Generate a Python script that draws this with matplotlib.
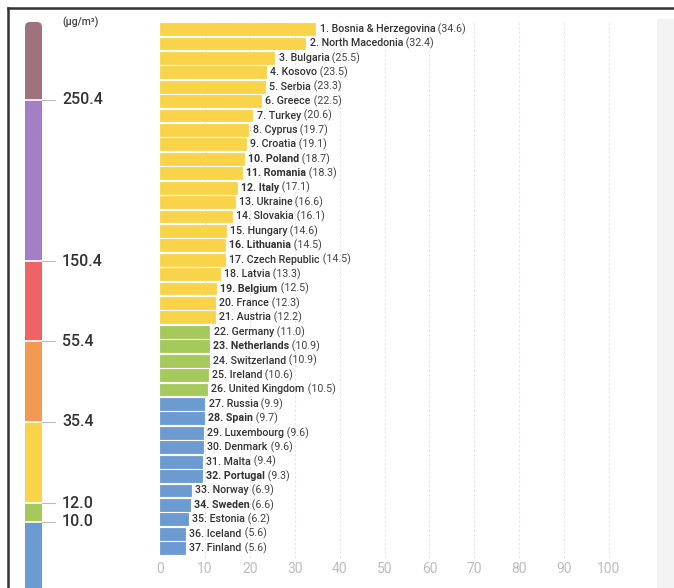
import matplotlib
matplotlib.use("Agg")
import matplotlib.pyplot as plt
from matplotlib import font_manager
from matplotlib.patches import Rectangle, FancyBboxPatch
from matplotlib.lines import Line2D

# ---- data ----
countries = ["Bosnia & Herzegovina", "North Macedonia", "Bulgaria", "Kosovo", "Serbia",
             "Greece", "Turkey", "Cyprus", "Croatia", "Poland", "Romania", "Italy",
             "Ukraine", "Slovakia", "Hungary", "Lithuania", "Czech Republic", "Latvia",
             "Belgium", "France", "Austria", "Germany", "Netherlands", "Switzerland",
             "Ireland", "United Kingdom", "Russia", "Spain", "Luxembourg", "Denmark",
             "Malta", "Portugal", "Norway", "Sweden", "Estonia", "Iceland", "Finland"]
pm25 = [34.6, 32.4, 25.5, 23.5, 23.3, 22.5, 20.6, 19.7, 19.1, 18.7, 18.3, 17.1,
        16.6, 16.1, 14.6, 14.5, 14.5, 13.3, 12.5, 12.3, 12.2, 11.0, 10.9, 10.9,
        10.6, 10.5, 9.9, 9.7, 9.6, 9.6, 9.4, 9.3, 6.9, 6.6, 6.2, 5.6, 5.6]
bold_names = ["Poland", "Romania", "Italy", "Lithuania", "Belgium", "Netherlands",
              "Spain", "Portugal", "Sweden"]
x_ticks = [0, 10, 20, 30, 40, 50, 60, 70, 80, 90, 100]

# scale thresholds (µg/m³) and the colour of each band, low to high
thresholds = [10.0, 12.0, 35.4, 55.4, 150.4, 250.4]
band_colors = ["#6b9bd0", "#a5c95a", "#f9d44b", "#f39a52", "#ee6466", "#a57fc4", "#a0717f"]
unit_label = "(µg/m³)"

# ---- fonts ----
available = {f.name for f in font_manager.fontManager.ttflist}
narrow = "Liberation Sans Narrow" if "Liberation Sans Narrow" in available else "Roboto"
plt.rcParams["font.family"] = [narrow, "DejaVu Sans"]

W, H = 674, 588
fig = plt.figure(figsize=(W / 100, H / 100), dpi=100)
fig.patch.set_facecolor("white")


def fx(px):
    return px / W


def fy(py):
    return 1 - py / H


# frame: dark rule top and left, pale strip on the right
fig.add_artist(Line2D([fx(8), 1], [fy(8), fy(8)], color="#333333", lw=1.8))
fig.add_artist(Line2D([fx(8), fx(8)], [fy(8), 0], color="#333333", lw=1.8))
fig.add_artist(Rectangle((fx(657), 0), 1 - fx(657), fy(19), color="#f3f3f3", lw=0))


def band_color(v):
    for t, c in zip(thresholds, band_colors):
        if v < t:
            return c
    return band_colors[len(thresholds)]


# ---- bar chart ----
left_px, right_px = 160, 657
top_px, bot_px = 20, 558
ax = fig.add_axes([fx(left_px), fy(bot_px), fx(right_px) - fx(left_px), fy(top_px) - fy(bot_px)])
xmax = 100 * (right_px - left_px) / (609 - 160)
ax.set_xlim(0, xmax)
n = len(countries)
step = 14.42
ax.set_ylim((bot_px - 29) / step, (top_px - 29) / step)

for t in x_ticks[1:]:
    ax.axvline(t, color="#e4e4e4", lw=0.8, ls=(0, (2, 2)), zorder=0)

ypos = list(range(n))
colors = [band_color(v) for v in pm25]
ax.barh(ypos, pm25, height=0.82, color=colors, edgecolor=colors, lw=0.6,
        joinstyle="round", zorder=2)

for i, (name, v) in enumerate(zip(countries, pm25)):
    weight = "bold" if name in bold_names else "medium"
    t1 = ax.annotate(f"{i + 1}. {name}", xy=(v, i), xytext=(3, 0), textcoords="offset points",
                     ha="left", va="center", fontsize=7.7, color="#333333", fontweight=weight,
                     zorder=3)
    ax.annotate(f" ({v:.1f})", xy=(1, 0.5), xycoords=t1, ha="left", va="center",
                fontsize=7.7, color="#444444", zorder=3)

ax.set_xticks(x_ticks)
ax.set_xticklabels([str(t) for t in x_ticks], color="#bdbdbd", fontsize=10)
ax.tick_params(axis="x", length=0, pad=3)
ax.set_yticks([])
for s in ax.spines.values():
    s.set_visible(False)
ax.patch.set_alpha(0)

# ---- colour scale on the left ----
cax = fig.add_axes([0, 0, 1, 1])
cax.set_xlim(0, W)
cax.set_ylim(H, 0)
cax.axis("off")
cax.patch.set_alpha(0)

# vertical extent of each band, bottom to top (pixel edges of the scale)
band_edges = [600, 522, 503, 422, 341, 261, 100, 22]
bx0, bx1 = 25, 42
for k, c in enumerate(band_colors):
    y_low, y_high = band_edges[k], band_edges[k + 1]
    if k == len(band_colors) - 1:
        cax.add_patch(FancyBboxPatch((bx0, y_high), bx1 - bx0, y_low - y_high,
                                     boxstyle="round,pad=0,rounding_size=5",
                                     color=c, lw=0))
        cax.add_patch(Rectangle((bx0, y_high + 8), bx1 - bx0, y_low - y_high - 8, color=c, lw=0))
    else:
        cax.add_patch(Rectangle((bx0, y_high), bx1 - bx0, y_low - y_high, color=c, lw=0))

for k, t in enumerate(thresholds):
    yb = band_edges[k + 1]
    cax.plot([bx0, bx1], [yb, yb], color="white", lw=1.2)
    cax.plot([bx1, 55], [yb, yb], color="#bbbbbb", lw=0.8)
    cax.text(62, yb, f"{t:.1f}", ha="left", va="center", fontsize=11.5, color="#333333",
             fontweight="medium")

cax.text(62, 22, unit_label, ha="left", va="center", fontsize=7.5, color="#444444",
         fontweight="medium")

fig.savefig("out.png", dpi=100)
